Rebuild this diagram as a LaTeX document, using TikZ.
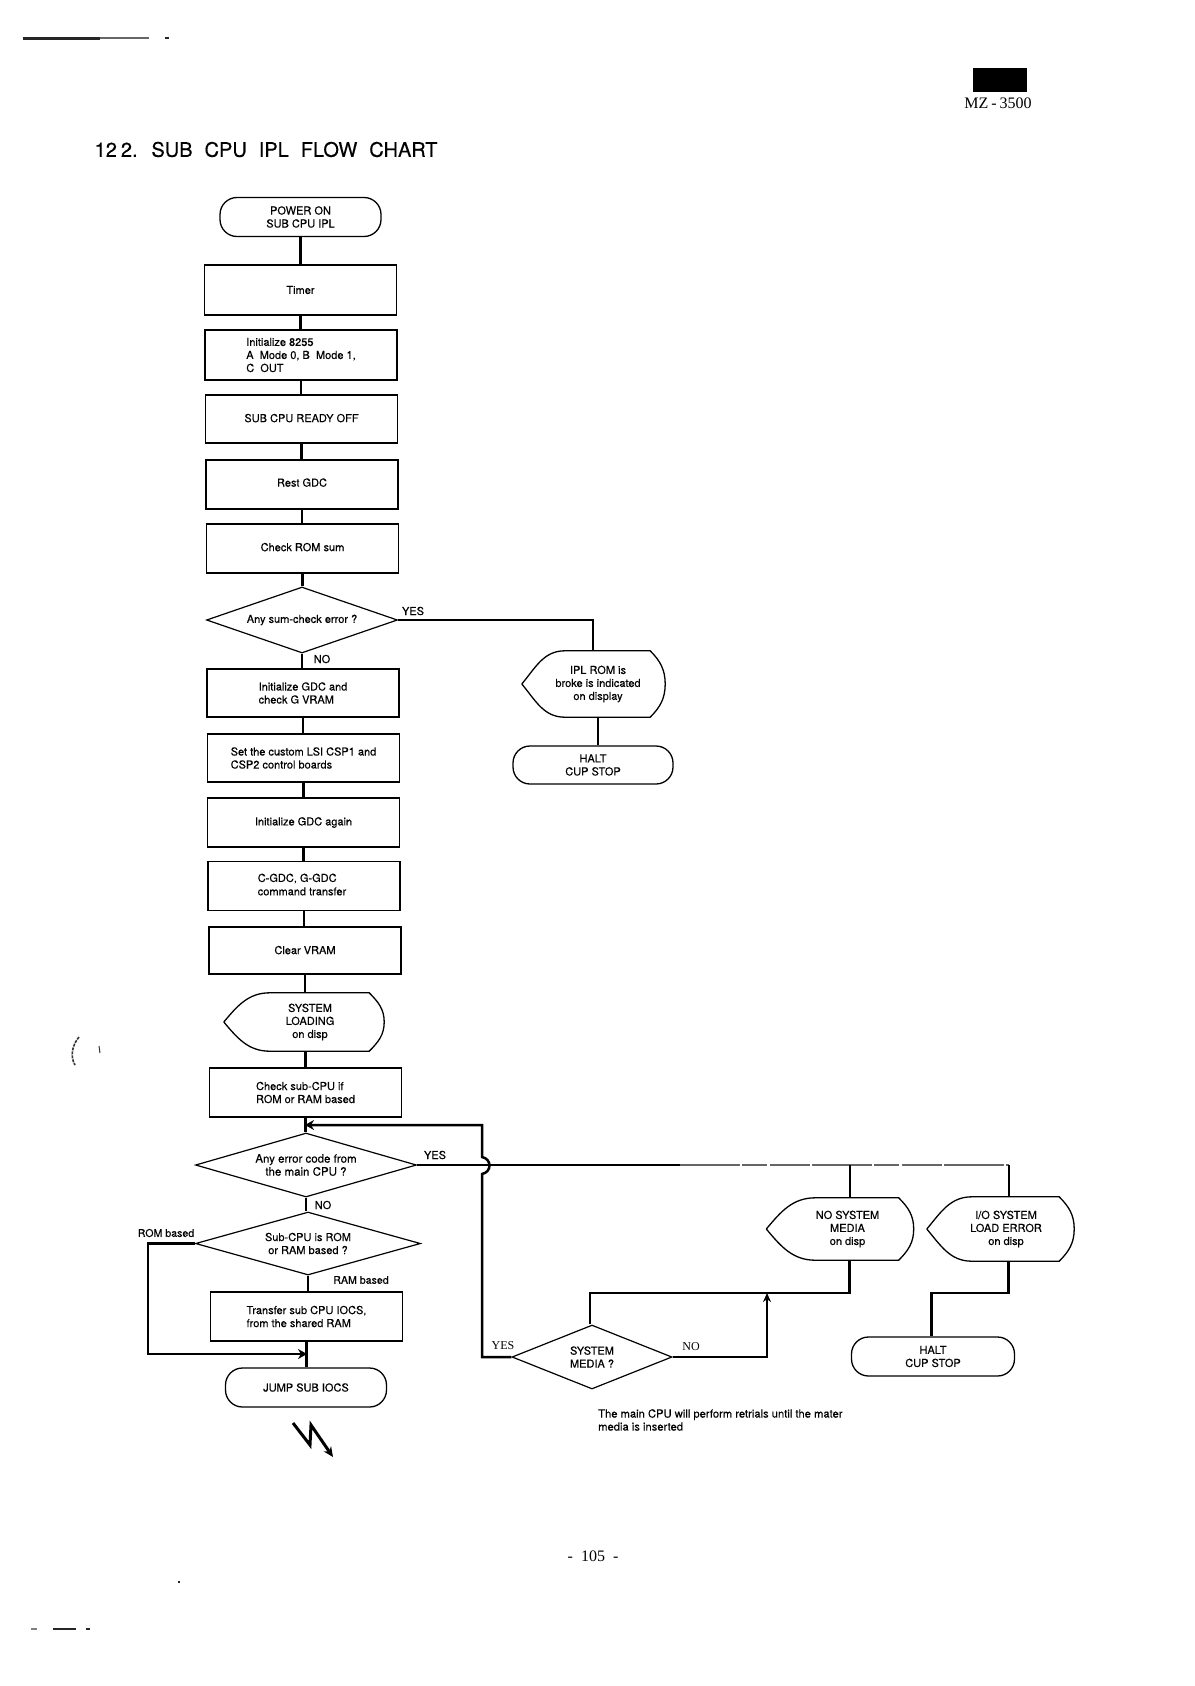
\documentclass[tikz,border=0pt]{standalone}
\usepackage{fontspec}
\setmainfont{TeX Gyre Heros}[FakeBold=0.3]
\newfontfamily\serfont{Liberation Serif}
\usetikzlibrary{arrows.meta}
\usetikzlibrary{shapes.geometric}
\tikzset{
	chart/.style={font=\fontsize{11}{13}\selectfont,inner sep=0pt,align=center},
	procbox/.style={chart,draw,line width=1.3pt,minimum width=192pt,minimum height=49pt},
	terminal/.style={chart,draw,line width=1.3pt,rounded corners=17pt,minimum width=161pt,minimum height=39pt},
	dispbox/.style={chart,minimum height=60pt},
	decision/.style={chart,draw,diamond,line width=1.2pt},
	link/.style={line width=2.5pt},
	tag/.style={chart,font=\fontsize{11}{13}\selectfont},
	tip/.style={-{Stealth[length=9pt,width=10pt]}},
	speck/.style={fill=black!85,draw=none}
}
\begin{document}
\begin{tikzpicture}[x=1pt,y=-1pt]
	\useasboundingbox[fill=white] (0,0) rectangle (1194,1686);
	%Nodes
	\node[chart,anchor=west,font=\fontsize{20}{22}\selectfont] (title) at (94.5,149.5) {\spaceskip=12pt\relax 12\hspace{4pt}2. SUB CPU IPL FLOW CHART};
	\node[chart,font=\serfont\fontsize{16}{17}\selectfont] (model) at (998,103.5) {MZ\kern3pt-\kern3pt3500};
	\node[chart,font=\serfont\fontsize{16}{17}\selectfont] (page) at (593,1556) {-\kern8pt105\kern8pt-};

	\node[terminal] (power) at (300.5,217) {POWER ON\\SUB CPU IPL};
	\node[procbox,minimum height=50pt] (timer) at (300.5,290) {Timer};
	\node[procbox,minimum height=50pt,align=left] (init) at (301,355) {Initialize 8255\\A\ \ Mode 0, B\ \ Mode 1,\\C\ \ OUT};
	\node[procbox,minimum height=48pt] (ready) at (301.5,419) {\raisebox{2pt}{SUB CPU READY OFF}};
	\node[procbox] (rest) at (302,484.5) {\raisebox{4pt}{Rest GDC}};
	\node[procbox] (romsum) at (302.5,548.5) {\raisebox{3pt}{Check ROM sum}};
	\node[decision,shape aspect=2.9,minimum width=191pt,minimum height=66pt] (sumerr) at (302,620) {Any sum-check error ?};
	\node[procbox,minimum height=48pt,align=left] (gdcinit) at (303,693) {Initialize GDC and\\check G VRAM};
	\node[procbox,minimum height=48pt,align=left] (custom) at (303.5,758) {Set the custom LSI CSP1 and\\CSP2 control boards};
	\node[procbox] (again) at (303.5,822.5) {Initialize GDC again};
	\node[procbox,align=left] (transfer) at (304,886) {\raisebox{2pt}{\begin{tabular}{@{\hspace{-4pt}}l@{}}C-GDC, G-GDC\\[0.4pt]command transfer\end{tabular}}};
	\node[procbox,minimum height=47pt] (clear) at (305,950.5) {\raisebox{1pt}{Clear VRAM}};
	\node[dispbox,minimum width=148pt,minimum height=58pt] (sysload) at (310,1022) {SYSTEM\\LOADING\\on disp};
	\node[procbox,align=left] (romram) at (305.5,1092.5) {Check sub-CPU if\\ROM or RAM based};
	\node[decision,shape aspect=3.4,minimum width=221pt,minimum height=64pt,font=\fontsize{11.5}{13}\selectfont] (mainerr) at (306,1165) {Any error code from\\the main CPU ?};
	\node[decision,shape aspect=3.4,minimum width=225pt,minimum height=63pt] (subcpu) at (308,1243.5) {Sub-CPU is ROM\\or RAM based ?};
	\node[procbox,align=left] (copyiocs) at (306.5,1316.5) {Transfer sub CPU IOCS,\\from the shared RAM};
	\node[terminal] (jump) at (306,1387.5) {JUMP SUB IOCS};

	\node[dispbox,minimum width=134pt,minimum height=66pt] (iplrom) at (598,684) {IPL ROM is\\broke is indicated\\on display};
	\node[terminal,minimum width=160pt,minimum height=38pt] (halta) at (593,765) {HALT\\CUP STOP};

	\node[dispbox,minimum width=132pt,minimum height=62pt] (nomedia) at (847.5,1229) {NO SYSTEM\\MEDIA\\on disp};
	\node[dispbox,minimum width=136pt,minimum height=64pt] (ioerr) at (1006,1229) {I/O SYSTEM\\LOAD ERROR\\on disp};
	\node[decision,shape aspect=2.1,minimum width=160pt,minimum height=64pt] (sysmedia) at (592,1357) {SYSTEM\\MEDIA ?};
	\node[terminal,minimum width=163pt,minimum height=39pt] (haltb) at (933,1356.5) {HALT\\CUP STOP};

	%Labels
	\node[tag] (yesa) at (413,611) {YES};
	\node[tag] (noa) at (322,659) {NO};
	\node[tag] (yesb) at (435,1155) {YES};
	\node[tag] (nob) at (323,1205) {NO};
	\node[tag,font=\fontsize{10.6}{11}\selectfont] (rombased) at (166,1233) {ROM based};
	\node[tag,font=\fontsize{10.6}{11}\selectfont] (rambased) at (361,1280) {RAM based};
	\node[tag,font=\serfont\fontsize{12}{13}\selectfont] (yesc) at (503,1346) {YES};
	\node[tag,font=\serfont\fontsize{12}{13}\selectfont] (noc) at (691,1347) {NO};
	\node[tag,anchor=north west,align=left,font=\fontsize{11.2}{13}\selectfont] (note) at (598,1409) {The main CPU will perform retrials until the mater\\media is inserted};

	%Corners
	\coordinate (romleft) at (148,1300);
	\coordinate (romjoin) at (307,1354);
	\coordinate (loopjoin) at (305,1125);
	\coordinate (loopleft) at (482,1125);
	\coordinate (bumpup) at (482,1157);
	\coordinate (bumpdown) at (482,1174);
	\coordinate (errfade) at (680,1165);
	\coordinate (errend) at (1008.5,1165);
	\coordinate (nomediatop) at (849.5,1165);
	\coordinate (mediaup) at (590,1293);
	\coordinate (medianode) at (849.5,1293);
	\coordinate (mediajoin) at (767,1293);
	\coordinate (iobend) at (1008.5,1293);
	\coordinate (haltbend) at (931.5,1293);
	\coordinate (suma) at (593,620);
	\coordinate (flasha) at (293,1423);
	\coordinate (flashb) at (310,1445);
	\coordinate (flashc) at (311,1425);
	\coordinate (flashd) at (333,1457);

	%Lines
	\foreach \a/\b in {power/timer,timer/init,init/ready,ready/rest,rest/romsum,romsum/sumerr,sumerr/gdcinit,gdcinit/custom,custom/again,again/transfer,transfer/clear,clear/sysload,romram/mainerr,mainerr/subcpu,subcpu/copyiocs,copyiocs/jump,iplrom/halta}
		\draw[link] (\a.south) -- (\a.south |- \b.north);
	\draw[link] (sysload.south -| romram.north) -- (romram.north);
	\draw[link] (sumerr.east) -| (iplrom.north -| suma);
	\draw[link,tip] (subcpu.west) -| (romleft) |- (romjoin);

	\draw[link,line width=2pt] (mainerr.east) -- (errfade);
	\draw[line width=1.5pt,black!60,dash pattern=on 60pt off 2pt on 25pt off 3pt on 40pt off 2pt] (errfade) -- (errend);
	\draw[link,line width=2pt] (nomediatop) -- (nomedia.north -| nomediatop);
	\draw[link,line width=2pt] (errend) -- (ioerr.north -| errend);

	\draw[link,tip] (sysmedia.west) -| (bumpdown) .. controls (492,1172) and (492,1159) .. (bumpup) |- (loopleft) -- (loopjoin);
	\draw[link] (sysmedia.north -| mediaup) -- (mediaup) -- (medianode) -- (nomedia.south -| medianode);
	\draw[link,-{Stealth[length=9pt,width=8pt]}] (sysmedia.east) -| (mediajoin);
	\draw[link] (ioerr.south -| iobend) -- (iobend) -- (haltbend) -- (haltb.north -| haltbend);

	\draw[link,line width=3pt,-{Stealth[length=10pt,width=9pt]}] (flasha) -- (flashb) -- (flashc) -- (flashd);

	%Display outlines
	\foreach \n/\t in {iplrom/9,sysload/12,nomedia/15,ioerr/11}
		\draw[line width=1.3pt] ([xshift=-\t pt]\n.west) to[out=50,in=180] ([xshift=34pt]\n.north west) -- ([xshift=-15pt]\n.north east) to[out=-45,in=90] (\n.east) to[out=-90,in=45] ([xshift=-15pt]\n.south east) -- ([xshift=34pt]\n.south west) to[out=180,in=-50] ([xshift=-\t pt]\n.west);

	%Page marks
	\fill[black] (973,68) rectangle (1027,92);
	\fill[speck] (23,37) rectangle (100,40);
	\fill[speck,fill=black!60] (100,37.5) rectangle (149,39);
	\fill[speck] (165,37) rectangle (169,39);
	\fill[speck] (178,1581) rectangle (180,1583);
	\fill[speck,fill=black!50] (31,1628) rectangle (37,1630);
	\fill[speck] (53,1628) rectangle (76,1630);
	\fill[speck] (86,1628) rectangle (90,1630);
	\draw[line width=1.6pt,black!80,dash pattern=on 3pt off 1pt] (79,1037) .. controls (72,1045) and (70,1057) .. (75,1065);
	\draw[line width=1pt,black!80] (99,1046) -- (100,1053);
\end{tikzpicture}
\end{document}
